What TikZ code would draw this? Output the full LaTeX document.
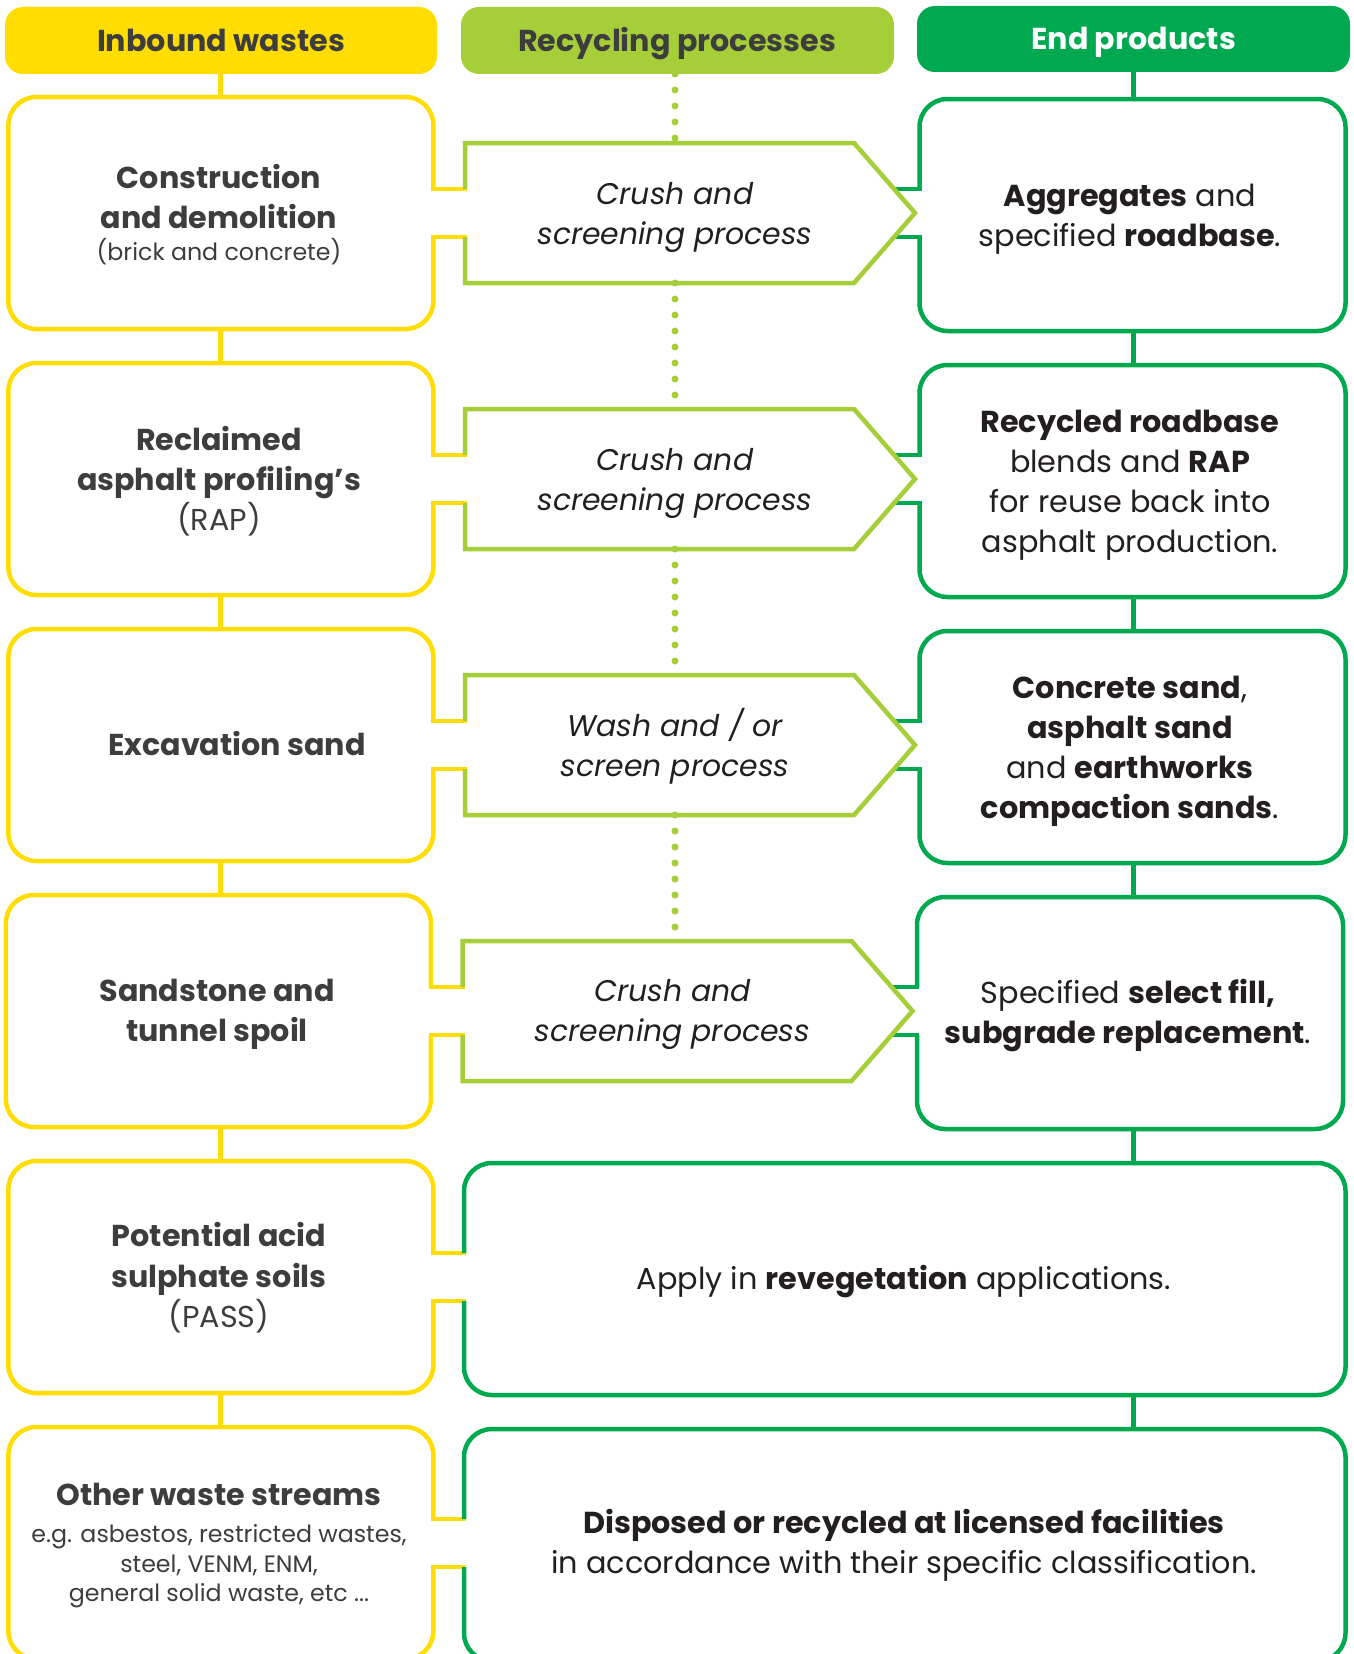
\documentclass[tikz,border=0pt]{standalone}
\usepackage{fontspec}
\setmainfont{Poppins}
\definecolor{cY}{HTML}{FFDD00}
\definecolor{cL}{HTML}{A6CE39}
\definecolor{cG}{HTML}{00A950}
\definecolor{cT}{HTML}{3D3D3D}
\definecolor{cK}{HTML}{231F20}
\tikzset{
  lw/.style={line width=4.5pt},
  ybox/.style={lw, draw=cY, rounded corners=28pt},
  ystub/.style={lw, draw=cY, line cap=rect},
  gbox/.style={lw, draw=cG, rounded corners=28pt},
  gstub/.style={lw, draw=cG, line cap=rect},
  pshape/.style={lw, draw=cL, line join=miter},
  ylink/.style={lw, draw=cY},
  glink/.style={lw, draw=cG},
  dots/.style={draw=cL, line width=7pt, line cap=round, dash pattern=on 0pt off 16pt},
  hd/.style={anchor=base, font=\fontsize{30.2}{30}\selectfont\bfseries},
  yb/.style={anchor=base, text=cT, font=\fontsize{30.2}{30}\selectfont\bfseries},
  yr/.style={anchor=base, text=cT, font=\fontsize{30.2}{30}\selectfont},
  ys/.style={anchor=base, text=cT, font=\fontsize{23.7}{24}\selectfont},
  pt/.style={anchor=base, text=cK, font=\fontsize{29.9}{30}\selectfont\itshape},
  gt/.style={anchor=base, text=cK, font=\fontsize{30.3}{30}\selectfont},
}
\newcommand\procrow[3]{% #1 name, #2 top, #3 dx
\begin{scope}[shift={(#3,#2)}]
  \draw[ybox] (433.4,92) -- (433.4,0) -- (8.4,0) -- (8.4,232) -- (433.4,232) -- (433.4,140);
  \draw[ystub] (433.4,92) -- (465,92);
  \draw[ystub] (433.4,140) -- (465,140);
  \draw[gstub] (897,92) -- (919.5,92);
  \draw[gstub] (897,140) -- (919.5,140);
  \draw[pshape] (465,92) -- (465,46) -- (854,46) -- (915,116) -- (854,186) -- (465,186) -- (465,140);
  \draw[gbox] (919.5,92) -- (919.5,2) -- (1345.5,2) -- (1345.5,234) -- (919.5,234) -- (919.5,140);
  \coordinate (#1-pt) at (675,46);
  \coordinate (#1-pb) at (675,186);
\end{scope}}
\newcommand\bigrow[2]{% #1 name, #2 top
\begin{scope}[shift={(0,#2)}]
  \draw[ybox] (433.4,92) -- (433.4,0) -- (8.4,0) -- (8.4,232) -- (433.4,232) -- (433.4,140);
  \draw[ystub] (433.4,92) -- (464,92);
  \draw[ystub] (433.4,140) -- (464,140);
  \draw[gbox] (464,92) -- (464,2) -- (1345.5,2) -- (1345.5,234) -- (464,234) -- (464,140);
\end{scope}}
\begin{document}
\begin{tikzpicture}[x=1pt,y=-1pt]
\useasboundingbox[fill=white] (0,0) rectangle (1354,1654);
% headers
\fill[cY, rounded corners=18pt] (5,7) rectangle (437,74);
\fill[cL, rounded corners=18pt] (461,7) rectangle (894,74);
\fill[cG, rounded corners=18pt] (917,6) rectangle (1350,72);
\node[hd, text=cT] (h1) at (221,52) {Inbound wastes};
\node[hd, text=cT] (h2) at (677,52) {Recycling processes};
\node[hd, text=white] (h3) at (1133.6,50) {End products};
\coordinate (h1b) at (220.4,74);
\coordinate (h2b) at (675,74);
\coordinate (h3b) at (1133.6,72);
% rows
\procrow{r1}{97}{0}
\procrow{r2}{363}{0}
\procrow{r3}{629}{0}
\procrow{r4}{895}{-2.5}
\bigrow{r5}{1161}
\bigrow{r6}{1427}
% vertical links
\foreach \a/\b in {74/97, 329/363, 595/629, 861/895, 1127/1161, 1393/1427}
  \draw[ylink] (220.4,\a) -- (220.4,\b);
\foreach \a/\b in {72/99, 331/365, 597/631, 863/897, 1129/1163, 1395/1429}
  \draw[glink] (1133.6,\a) -- (1133.6,\b);
\draw[dots] (h2b) -- (r1-pt);
\draw[dots] (r1-pb) -- (r2-pt);
\draw[dots] (r2-pb) -- (r3-pt);
\draw[dots] (r3-pb) -- (675,941);
% row 1 texts
\node[yb] (t1a) at (219,188) {Construction};
\node[yb] (t1b) at (219,228) {and demolition};
\node[ys] (t1c) at (219,260) {(brick and concrete)};
\node[pt] (p1a) at (675,204) {Crush and};
\node[pt] (p1b) at (675,244) {screening process};
\node[gt] (g1a) at (1130,206) {\textbf{Aggregates} and};
\node[gt] (g1b) at (1130,246) {specified \textbf{roadbase}.};
% row 2
\node[yb] (t2a) at (219,450) {Reclaimed};
\node[yb] (t2b) at (219,490) {asphalt profiling’s};
\node[yr] (t2c) at (219,530) {(RAP)};
\node[pt] (p2a) at (675,470) {Crush and};
\node[pt] (p2b) at (675,510) {screening process};
\node[gt] (g2a) at (1130,432) {\textbf{Recycled roadbase}};
\node[gt] (g2b) at (1130,472) {blends and \textbf{RAP}};
\node[gt] (g2c) at (1130,512) {for reuse back into};
\node[gt] (g2d) at (1130,552) {asphalt production.};
% row 3
\node[yb] (t3a) at (237,755) {Excavation sand};
\node[pt] (p3a) at (675,736) {Wash and / or};
\node[pt] (p3b) at (675,776) {screen process};
\node[gt] (g3a) at (1130,698) {\textbf{Concrete sand},};
\node[gt] (g3b) at (1130,738) {\textbf{asphalt sand}};
\node[gt] (g3c) at (1130,778) {and \textbf{earthworks}};
\node[gt] (g3d) at (1130,818) {\textbf{compaction sands}.};
% row 4
\node[yb] (t4a) at (217,1001) {Sandstone and};
\node[yb] (t4b) at (217,1041) {tunnel spoil};
\node[pt] (p4a) at (672.5,1001) {Crush and};
\node[pt] (p4b) at (672.5,1041) {screening process};
\node[gt] (g4a) at (1128,1003) {Specified \textbf{select fill,}};
\node[gt] (g4b) at (1128,1043) {\textbf{subgrade replacement}.};
% row 5
\node[yb] (t5a) at (219,1246) {Potential acid};
\node[yb] (t5b) at (219,1287) {sulphate soils};
\node[yr] (t5c) at (219,1327) {(PASS)};
\node[gt] (g5a) at (904,1289) {Apply in \textbf{revegetation} applications.};
% row 6
\node[yb] (t6a) at (219,1505) {Other waste streams};
\node[ys] (t6b) at (219,1542) {e.g. asbestos, restricted wastes,};
\node[ys] (t6c) at (219,1572) {steel, VENM, ENM,};
\node[ys] (t6d) at (219,1601) {general solid waste, etc ...};
\node[gt] (g6a) at (904,1533) {\textbf{Disposed or recycled at licensed facilities}};
\node[gt] (g6b) at (904,1573) {in accordance with their specific classification.};
\end{tikzpicture}
\end{document}
